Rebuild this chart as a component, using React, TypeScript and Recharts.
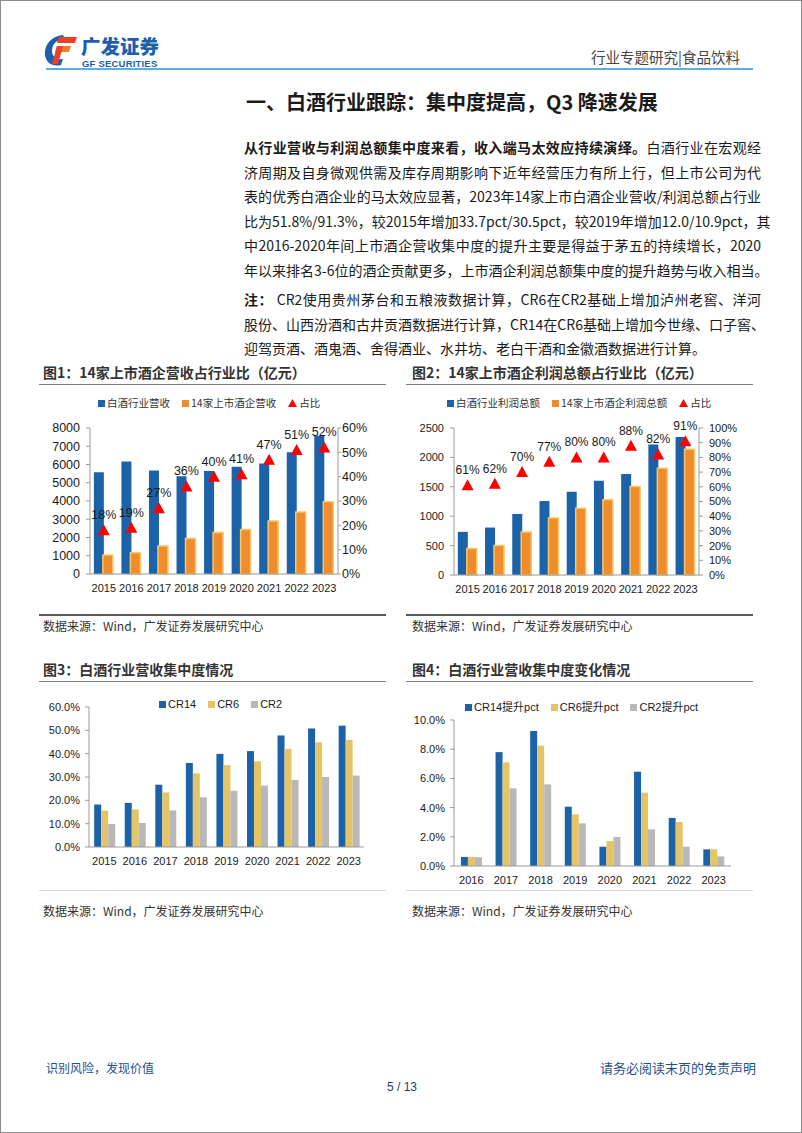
import React from "react";
import {
  ComposedChart,
  BarChart,
  Bar,
  Line,
  XAxis,
  YAxis,
  LabelList,
} from "recharts";

// 图1 / 图2 data
const years = ["2015", "2016", "2017", "2018", "2019", "2020", "2021", "2022", "2023"];
const industryRevenue = [5580, 6160, 5670, 5360, 5650, 5870, 6050, 6670, 7580];
const listedRevenue = [1040, 1160, 1530, 1950, 2270, 2440, 2910, 3400, 3960];
const revenueShare = [18, 19, 27, 36, 40, 41, 47, 51, 52];

const industryProfit = [734, 807, 1038, 1258, 1416, 1603, 1716, 2218, 2348];
const listedProfit = [450, 500, 730, 970, 1135, 1280, 1505, 1815, 2140];
const profitShare = [61, 62, 70, 77, 80, 80, 88, 82, 91];

// 图3 data (%)
const cr14 = [18.2, 18.9, 26.7, 36.0, 39.9, 41.1, 47.8, 50.8, 52.0];
const cr6 = [15.6, 16.1, 23.4, 31.6, 35.1, 36.7, 42.0, 44.9, 45.9];
const cr2 = [9.9, 10.3, 15.7, 21.3, 24.1, 26.3, 28.7, 30.0, 30.6];

// 图4 data (pct change)
const diffYears = ["2016", "2017", "2018", "2019", "2020", "2021", "2022", "2023"];
const cr14Up = [0.62, 7.8, 9.25, 4.06, 1.32, 6.46, 3.29, 1.14];
const cr6Up = [0.62, 7.1, 8.24, 3.54, 1.71, 5.02, 3.01, 1.14];
const cr2Up = [0.6, 5.32, 5.59, 2.92, 1.99, 2.51, 1.32, 0.66];

const revenueTicks = [0, 1000, 2000, 3000, 4000, 5000, 6000, 7000, 8000];
const revenueShareTicks = [0, 10, 20, 30, 40, 50, 60];
const profitTicks = [0, 500, 1000, 1500, 2000, 2500];
const profitShareTicks = [0, 10, 20, 30, 40, 50, 60, 70, 80, 90, 100];
const crTicks = [0, 10, 20, 30, 40, 50, 60];
const crUpTicks = [0, 2, 4, 6, 8, 10];

const revenueData = years.map((y, i) => ({
  year: y,
  industry: industryRevenue[i],
  listed: listedRevenue[i],
  share: revenueShare[i],
}));
const profitData = years.map((y, i) => ({
  year: y,
  industry: industryProfit[i],
  listed: listedProfit[i],
  share: profitShare[i],
}));
const crData = years.map((y, i) => ({ year: y, cr14: cr14[i], cr6: cr6[i], cr2: cr2[i] }));
const crUpData = diffYears.map((y, i) => ({
  year: y,
  cr14: cr14Up[i],
  cr6: cr6Up[i],
  cr2: cr2Up[i],
}));

const BLUE = "#1c62a8";
const ORANGE = "#ef8c2e";
const ORANGE_EDGE = "#f8c868";
const GOLD = "#e6c466";
const GRAY = "#b8b8b8";
const RED = "#ff0000";
const AXIS = "#9a9a9a";

const FONT = '"Liberation Sans", Arial, "Noto Sans CJK SC", sans-serif';
const CJK = '"Noto Sans CJK SC", "Liberation Sans", sans-serif';

const Triangle = (props: any) => {
  const { cx, cy, index } = props;
  if (cx == null || cy == null) return <g key={index} />;
  return (
    <polygon
      key={index}
      points={`${cx},${cy - 6} ${cx - 6},${cy + 5} ${cx + 6},${cy + 5}`}
      fill={RED}
    />
  );
};

const pct = (v: any) => `${v}%`;
const pct1 = (v: any) => `${Number(v).toFixed(1)}%`;

function LegendItem({ color, label, tri }: { color: string; label: string; tri?: boolean }) {
  return (
    <span style={{ display: "inline-flex", alignItems: "center", marginRight: 12 }}>
      {tri ? (
        <svg width={9} height={8} style={{ marginRight: 2 }}>
          <polygon points="4.5,0 0,8 9,8" fill={RED} />
        </svg>
      ) : (
        <span style={{ width: 7, height: 7, background: color, display: "inline-block", marginRight: 2 }} />
      )}
      <span>{label}</span>
    </span>
  );
}

function Abs({ x, y, children, style }: { x: number; y: number; children: React.ReactNode; style?: React.CSSProperties }) {
  return <div style={{ position: "absolute", left: x, top: y, ...style }}>{children}</div>;
}

const paraLines: { bold?: string; text: string }[] = [
  { bold: "从行业营收与利润总额集中度来看，收入端马太效应持续演绎。", text: "白酒行业在宏观经" },
  { text: "济周期及自身微观供需及库存周期影响下近年经营压力有所上行，但上市公司为代" },
  { text: "表的优秀白酒企业的马太效应显著，2023年14家上市白酒企业营收/利润总额占行业" },
  { text: "比为51.8%/91.3%，较2015年增加33.7pct/30.5pct，较2019年增加12.0/10.9pct，其" },
  { text: "中2016-2020年间上市酒企营收集中度的提升主要是得益于茅五的持续增长，2020" },
  { text: "年以来排名3-6位的酒企贡献更多，上市酒企利润总额集中度的提升趋势与收入相当。" },
];
const noteLines: { bold?: string; text: string; last?: boolean }[] = [
  { bold: "注：", text: "  CR2使用贵州茅台和五粮液数据计算，CR6在CR2基础上增加泸州老窖、洋河" },
  { text: "股份、山西汾酒和古井贡酒数据进行计算，CR14在CR6基础上增加今世缘、口子窖、" },
  { text: "迎驾贡酒、酒鬼酒、舍得酒业、水井坊、老白干酒和金徽酒数据进行计算。", last: true },
];

function TextLine({ y, bold, text, last }: { y: number; bold?: string; text: string; last?: boolean }) {
  return (
    <div
      style={{
        position: "absolute",
        left: 243,
        top: y,
        width: 517,
        fontSize: 14,
        lineHeight: "20px",
        whiteSpace: "nowrap",
        textAlign: last ? "left" : "justify",
        textAlignLast: last ? "left" : "justify",
        color: "#1a1a1a",
        fontFamily: CJK,
      }}
    >
      {bold && <b>{bold}</b>}
      {text}
    </div>
  );
}

function FigTitle({ x, y, text }: { x: number; y: number; text: string }) {
  return (
    <Abs x={x} y={y} style={{ fontSize: 14, fontWeight: 700, color: "#333", fontFamily: CJK, lineHeight: "18px" }}>
      {text}
    </Abs>
  );
}

function HLine({ x, y, w, color, h = 1 }: { x: number; y: number; w: number; color: string; h?: number }) {
  return <div style={{ position: "absolute", left: x, top: y, width: w, height: h, background: color }} />;
}

const source = "数据来源：Wind，广发证券发展研究中心";

export default function App() {
  const tickStyle = { fontSize: 12.5, fill: "#1a1a1a", fontFamily: FONT };
  const tickSmall = { fontSize: 11, fill: "#1a1a1a", fontFamily: FONT };
  return (
    <div
      style={{
        position: "absolute",
        left: 0,
        top: 0,
        width: 802,
        height: 1133,
        boxSizing: "border-box",
        border: "1px solid #8c8c8c",
        background: "#fff",
        fontFamily: CJK,
        overflow: "hidden",
      }}
    >
      {/* logo */}
      <svg style={{ position: "absolute", left: 42, top: 32 }} width={36} height={34}>
        <path d="M20 2 C8 3 1 12 2 22 C3 30 10 34 18 32 L20 26 C13 27 9 23 9 18 C9 10 15 6 22 6 Z" fill="#1d5fae" />
        <polygon points="16,4 34,4 32,10 14,10" fill="#e8402a" />
        <polygon points="14,13 28,13 26,19 12,19" fill="#f07a2a" />
        <polygon points="14,13 20,13 15,31 9,31" fill="#e8402a" />
      </svg>
      <Abs x={80} y={35} style={{ fontSize: 19.5, fontWeight: 900, color: "#1d5fae", lineHeight: "20px" }}>
        广发证券
      </Abs>
      <Abs x={81} y={58} style={{ fontSize: 9.5, fontWeight: 700, color: "#1d5fae", fontFamily: FONT, lineHeight: "10px", letterSpacing: 0.2 }}>
        GF SECURITIES
      </Abs>
      <Abs x={590} y={47} style={{ fontSize: 14.5, color: "#444", lineHeight: "18px" }}>
        行业专题研究|食品饮料
      </Abs>
      <HLine x={45} y={67} w={707} h={1.5} color="#5aaee0" />

      <Abs x={245} y={89} style={{ fontSize: 20, fontWeight: 700, color: "#1a1a1a", lineHeight: "24px" }}>
        一、白酒行业跟踪：集中度提高，Q3 降速发展
      </Abs>

      {paraLines.map((l, i) => (
        <TextLine key={i} y={136 + i * 24.6} bold={l.bold} text={l.text} />
      ))}
      {noteLines.map((l, i) => (
        <TextLine key={"n" + i} y={288 + i * 24.6} bold={l.bold} text={l.text} last={l.last} />
      ))}

      {/* Figure 1 */}
      <FigTitle x={42} y={362} text="图1：14家上市酒企营收占行业比（亿元）" />
      <HLine x={38} y={383} w={347} color="#7f7f7f" />
      <Abs x={97} y={395} style={{ fontSize: 10.5, color: "#333", display: "flex", lineHeight: "14px" }}>
        <LegendItem color={BLUE} label="白酒行业营收" />
        <LegendItem color={ORANGE} label="14家上市酒企营收" />
        <LegendItem color={RED} label="占比" tri />
      </Abs>
      <div style={{ position: "absolute", left: 30, top: 390 }}>
        <ComposedChart
          width={340}
          height={210}
          data={revenueData}
          margin={{ top: 37, right: 0, left: 0, bottom: 5 }}
          barCategoryGap="14%"
          barGap={-1}
        >
          <XAxis dataKey="year" tick={tickSmall} tickLine={false} axisLine={{ stroke: AXIS }} height={22} tickMargin={4} interval={0} />
          <YAxis
            yAxisId="l"
            domain={[0, 8000]}
            ticks={revenueTicks}
            interval={0}
            width={59}
            tick={tickStyle}
            axisLine={{ stroke: AXIS }}
            tickLine={{ stroke: AXIS }}
            tickSize={4}
            tickMargin={6}
          />
          <YAxis
            yAxisId="r"
            orientation="right"
            domain={[0, 60]}
            ticks={revenueShareTicks}
            interval={0}
            tickFormatter={pct}
            width={33}
            tick={tickStyle}
            axisLine={{ stroke: AXIS }}
            tickLine={{ stroke: AXIS }}
            tickSize={3}
            tickMargin={1}
          />
          <Bar yAxisId="l" dataKey="industry" fill={BLUE} isAnimationActive={false} />
          <Bar yAxisId="l" dataKey="listed" fill={ORANGE} stroke={ORANGE_EDGE} strokeWidth={1.5} isAnimationActive={false} />
          <Line
            yAxisId="r"
            dataKey="share"
            stroke="none"
            dot={Triangle}
            activeDot={false}
            isAnimationActive={false}
          >
            <LabelList dataKey="share" position="top" offset={11} formatter={pct} fill="#1a1a1a" fontSize={12.5} fontFamily={FONT} />
          </Line>
        </ComposedChart>
      </div>
      <HLine x={38} y={613} w={347} h={1.5} color="#5a5a5a" />
      <Abs x={42} y={617} style={{ fontSize: 12, color: "#333", lineHeight: "16px" }}>{source}</Abs>

      {/* Figure 2 */}
      <FigTitle x={411} y={362} text="图2：14家上市酒企利润总额占行业比（亿元）" />
      <HLine x={405} y={383} w={347} color="#7f7f7f" />
      <Abs x={446} y={395} style={{ fontSize: 10.5, color: "#333", display: "flex", lineHeight: "14px" }}>
        <LegendItem color={BLUE} label="白酒行业利润总额" />
        <LegendItem color={ORANGE} label="14家上市酒企利润总额" />
        <LegendItem color={RED} label="占比" tri />
      </Abs>
      <div style={{ position: "absolute", left: 400, top: 390 }}>
        <ComposedChart
          width={345}
          height={210}
          data={profitData}
          margin={{ top: 37, right: 0, left: 0, bottom: 4 }}
          barCategoryGap="14%"
          barGap={-1}
        >
          <XAxis dataKey="year" tick={tickSmall} tickLine={false} axisLine={{ stroke: AXIS }} height={22} tickMargin={4} interval={0} />
          <YAxis
            yAxisId="l"
            domain={[0, 2500]}
            ticks={profitTicks}
            interval={0}
            width={53}
            tick={tickSmall}
            axisLine={{ stroke: AXIS }}
            tickLine={{ stroke: AXIS }}
            tickSize={4}
            tickMargin={6}
          />
          <YAxis
            yAxisId="r"
            orientation="right"
            domain={[0, 100]}
            ticks={profitShareTicks}
            interval={0}
            tickFormatter={pct}
            width={47}
            tick={tickSmall}
            axisLine={{ stroke: AXIS }}
            tickLine={{ stroke: AXIS }}
            tickSize={4}
            tickMargin={6}
          />
          <Bar yAxisId="l" dataKey="industry" fill={BLUE} isAnimationActive={false} />
          <Bar yAxisId="l" dataKey="listed" fill={ORANGE} stroke={ORANGE_EDGE} strokeWidth={1.5} isAnimationActive={false} />
          <Line
            yAxisId="r"
            dataKey="share"
            stroke="none"
            dot={Triangle}
            activeDot={false}
            isAnimationActive={false}
          >
            <LabelList dataKey="share" position="top" offset={11} formatter={pct} fill="#1a1a1a" fontSize={12} fontFamily={FONT} />
          </Line>
        </ComposedChart>
      </div>
      <HLine x={405} y={613} w={347} h={1.5} color="#5a5a5a" />
      <Abs x={411} y={617} style={{ fontSize: 12, color: "#333", lineHeight: "16px" }}>{source}</Abs>

      {/* Figure 3 */}
      <FigTitle x={42} y={659} text="图3：白酒行业营收集中度情况" />
      <HLine x={38} y={680} w={347} color="#7f7f7f" />
      <Abs x={158} y={696} style={{ fontSize: 11, color: "#1a1a1a", display: "flex", lineHeight: "14px", fontFamily: FONT }}>
        <LegendItem color={BLUE} label="CR14" />
        <LegendItem color={GOLD} label="CR6" />
        <LegendItem color={GRAY} label="CR2" />
      </Abs>
      <div style={{ position: "absolute", left: 30, top: 690 }}>
        <BarChart
          width={338}
          height={182}
          data={crData}
          margin={{ top: 16, right: 5, left: 0, bottom: 4 }}
          barCategoryGap="17%"
          barGap={0}
        >
          <XAxis dataKey="year" tick={tickSmall} tickLine={false} axisLine={{ stroke: AXIS }} height={22} tickMargin={4} interval={0} />
          <YAxis
            domain={[0, 60]}
            ticks={crTicks}
            interval={0}
            tickFormatter={pct1}
            width={58}
            tick={tickSmall}
            axisLine={{ stroke: AXIS }}
            tickLine={{ stroke: AXIS }}
            tickSize={4}
            tickMargin={5}
          />
          <Bar dataKey="cr14" fill={BLUE} isAnimationActive={false} />
          <Bar dataKey="cr6" fill={GOLD} isAnimationActive={false} />
          <Bar dataKey="cr2" fill={GRAY} isAnimationActive={false} />
        </BarChart>
      </div>
      <HLine x={38} y={889} w={347} color="#d6d6d6" />
      <Abs x={42} y={902} style={{ fontSize: 12, color: "#333", lineHeight: "16px" }}>{source}</Abs>

      {/* Figure 4 */}
      <FigTitle x={411} y={659} text="图4：白酒行业营收集中度变化情况" />
      <HLine x={405} y={680} w={347} color="#7f7f7f" />
      <Abs x={464} y={699} style={{ fontSize: 11, color: "#1a1a1a", display: "flex", lineHeight: "14px", fontFamily: FONT }}>
        <LegendItem color={BLUE} label="CR14提升pct" />
        <LegendItem color={GOLD} label="CR6提升pct" />
        <LegendItem color={GRAY} label="CR2提升pct" />
      </Abs>
      <div style={{ position: "absolute", left: 400, top: 700 }}>
        <BarChart
          width={335}
          height={191}
          data={crUpData}
          margin={{ top: 19, right: 5, left: 0, bottom: 4 }}
          barCategoryGap="20%"
          barGap={0}
        >
          <XAxis dataKey="year" tick={tickSmall} tickLine={false} axisLine={{ stroke: AXIS }} height={22} tickMargin={4} interval={0} />
          <YAxis
            domain={[0, 10]}
            ticks={crUpTicks}
            interval={0}
            tickFormatter={pct1}
            width={53}
            tick={tickSmall}
            axisLine={{ stroke: AXIS }}
            tickLine={{ stroke: AXIS }}
            tickSize={4}
            tickMargin={5}
          />
          <Bar dataKey="cr14" fill={BLUE} isAnimationActive={false} />
          <Bar dataKey="cr6" fill={GOLD} isAnimationActive={false} />
          <Bar dataKey="cr2" fill={GRAY} isAnimationActive={false} />
        </BarChart>
      </div>
      <HLine x={405} y={889} w={347} color="#d6d6d6" />
      <Abs x={411} y={902} style={{ fontSize: 12, color: "#333", lineHeight: "16px" }}>{source}</Abs>

      {/* footer */}
      <Abs x={45} y={1059} style={{ fontSize: 12, color: "#1f4e8c", lineHeight: "16px" }}>识别风险，发现价值</Abs>
      <Abs x={599} y={1059} style={{ fontSize: 13, color: "#1f4e8c", lineHeight: "16px" }}>请务必阅读末页的免责声明</Abs>
      <Abs x={381} y={1079} style={{ fontSize: 12, color: "#1f3a6e", width: 40, textAlign: "center", fontFamily: FONT, lineHeight: "14px" }}>
        5 / 13
      </Abs>
    </div>
  );
}
